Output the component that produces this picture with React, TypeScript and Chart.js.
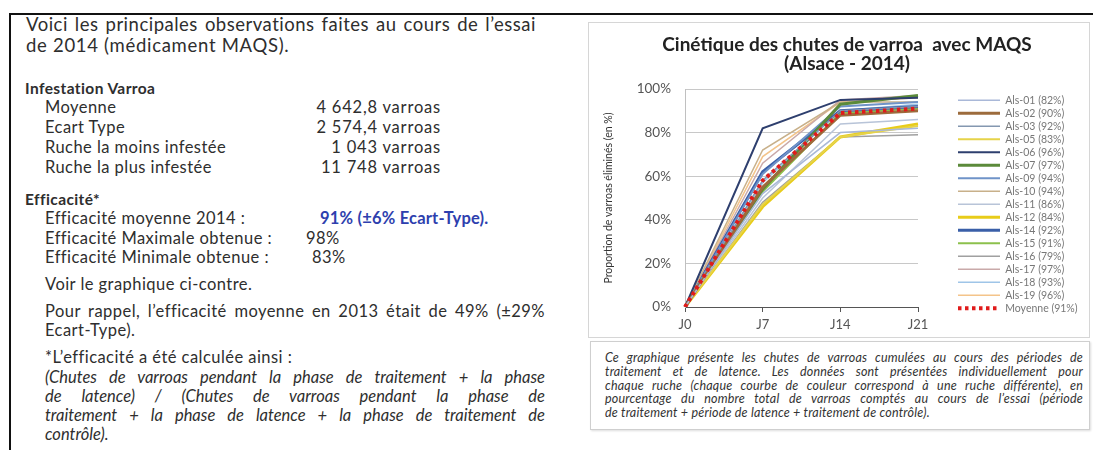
import React, { useEffect, useRef } from 'react';
import { Chart, registerables } from 'chart.js';

Chart.register(...registerables);

// ---------- data ----------
const days = ['J0', 'J7', 'J14', 'J21'];
const hiveLabels = [
  'Als-01 (82%)', 'Als-02 (90%)', 'Als-03 (92%)', 'Als-05 (83%)', 'Als-06 (96%)',
  'Als-07 (97%)', 'Als-09 (94%)', 'Als-10 (94%)', 'Als-11 (86%)', 'Als-12 (84%)',
  'Als-14 (92%)', 'Als-15 (91%)', 'Als-16 (79%)', 'Als-17 (97%)', 'Als-18 (93%)',
  'Als-19 (96%)',
];
const als01 = [0, 52, 80, 82];
const als02 = [0, 55, 88, 90];
const als03 = [0, 58, 90, 92];
const als05 = [0, 47, 78, 83];
const als06 = [0, 82, 95, 96];
const als07 = [0, 54, 93, 97];
const als09 = [0, 61, 92, 94];
const als10 = [0, 72, 94, 94];
const als11 = [0, 50, 84, 86];
const als12 = [0, 46, 78, 84];
const als14 = [0, 62, 90, 92];
const als15 = [0, 53, 89, 91];
const als16 = [0, 48, 78, 79];
const als17 = [0, 66, 95, 97];
const als18 = [0, 57, 90, 93];
const als19 = [0, 69, 94, 96];
const meanLabel = 'Moyenne (91%)';
const meanValues = [0, 58, 89, 91];
const yTickValues = [0, 20, 40, 60, 80, 100];

const hiveSeries = [als01, als02, als03, als05, als06, als07, als09, als10, als11, als12, als14, als15, als16, als17, als18, als19];

// ---------- styles ----------
const hiveColors = [
  '#a9b8d8', '#9c6b3c', '#8497b0', '#e6d34a', '#2e3f6e', '#5b8a3a', '#6f93c8', '#c8b08a',
  '#b8c4d8', '#e8cc1a', '#3a5fa8', '#8cc04c', '#a0a0a0', '#c9a9a9', '#9fc5e8', '#f4c48a',
];
const hiveWidths = [1.5, 3, 1.5, 2, 2, 3, 2, 1.5, 1.5, 3, 3, 2, 1.5, 1.5, 1.5, 1.5];

const FONT = 'Lato, "Noto Sans", sans-serif';

// layout constants (canvas-relative)
const CANVAS_W = 498;
const CANVAS_H = 312;
const LEGEND_LEFT = 365.5;
const LEGEND_TOP = 68.5;
const TITLE_CENTER = 257;
const TITLE_HALF = 240;

const placePlugin = {
  id: 'placeBoxes',
  afterLayout(chart: any) {
    const lg = chart.legend;
    if (lg) {
      const w = lg.width;
      lg.left = LEGEND_LEFT;
      lg.right = LEGEND_LEFT + w;
      lg.top = LEGEND_TOP;
      lg.bottom = LEGEND_TOP + 400;
    }
    const tb = chart.titleBlock;
    if (tb) {
      tb.left = TITLE_CENTER - TITLE_HALF;
      tb.right = TITLE_CENTER + TITLE_HALF;
      tb.width = TITLE_HALF * 2;
    }
  },
};

function VarroaChart() {
  const ref = useRef<HTMLCanvasElement | null>(null);
  useEffect(() => {
    if (!ref.current) return;
    const datasets: any[] = hiveSeries.map((vals, i) => ({
      label: hiveLabels[i],
      data: vals,
      borderColor: hiveColors[i],
      backgroundColor: hiveColors[i],
      borderWidth: hiveWidths[i],
      pointRadius: 0,
      tension: 0,
      fill: false,
      order: 0,
    }));
    datasets.push({
      label: meanLabel,
      data: meanValues,
      borderColor: '#e01b1b',
      backgroundColor: '#e01b1b',
      borderWidth: 4,
      borderDash: [3.5, 3.5],
      pointRadius: 0,
      tension: 0,
      fill: false,
      order: -1,
    });
    const baseLabels = Chart.defaults.plugins.legend.labels.generateLabels;
    const chart = new Chart(ref.current, {
      type: 'line',
      data: { labels: days, datasets },
      plugins: [placePlugin],
      options: {
        responsive: false,
        animation: false,
        devicePixelRatio: 1,
        layout: { padding: { left: 0, top: 0, right: CANVAS_W - 328, bottom: 0 } },
        plugins: {
          tooltip: { enabled: false },
          title: {
            display: true,
            text: ['Cinétique des chutes de varroa  avec MAQS', '(Alsace - 2014)'],
            color: '#222',
            font: { family: FONT, size: 19, weight: 'bold', lineHeight: '19.5px' },
            padding: { top: 11, bottom: 15 },
          },
          legend: {
            display: true,
            position: 'chartArea',
            align: 'start',
            labels: {
              usePointStyle: true,
              pointStyle: 'line',
              pointStyleWidth: 42,
              padding: 2.5,
              color: '#777',
              font: { family: FONT, size: 10.5 },
              sort: (a: any, b: any) => a.datasetIndex - b.datasetIndex,
              generateLabels: (c: any) => baseLabels(c).map((it: any) => {
                const ds = c.data.datasets[it.datasetIndex];
                return { ...it, lineDash: ds.borderDash || [], lineWidth: ds.borderWidth, strokeStyle: ds.borderColor };
              }),
            },
          },
        },
        scales: {
          x: {
            type: 'category',
            offset: false,
            grid: { display: true, drawOnChartArea: false, drawTicks: true, tickLength: 5, color: '#555' },
            border: { display: true, color: '#555', width: 1 },
            ticks: { color: '#555', font: { family: FONT, size: 13 }, padding: 5, maxRotation: 0 },
            afterFit: (s: any) => { s.height = 29; },
          },
          y: {
            min: 0,
            max: 100,
            afterBuildTicks: (s: any) => { s.ticks = yTickValues.map((v) => ({ value: v })); },
            grid: { color: '#c8c8c8', drawTicks: false, lineWidth: 1 },
            border: { display: true, color: '#c0c0c0' },
            ticks: {
              color: '#555',
              font: { family: FONT, size: 13.5 },
              padding: 14,
              callback: (v: any) => `${v}%`,
            },
            title: {
              display: true,
              text: 'Proportion de varroas éliminés (en %)',
              color: '#333',
              font: { family: FONT, size: 10.5 },
              padding: { top: 12.5, bottom: 0 },
            },
            afterFit: (s: any) => { s.width = 95; },
          },
        },
      },
    } as any);
    return () => chart.destroy();
  }, []);
  return <canvas ref={ref} width={CANVAS_W} height={CANVAS_H} style={{ width: CANVAS_W, height: CANVAS_H, display: 'block' }} />;
}

const BODY = 16.5;
const BODY_LS = 0.45;
const txt: React.CSSProperties = { position: 'absolute', whiteSpace: 'nowrap', fontFamily: FONT, color: '#2e2e2e', lineHeight: '20px' };

function T({ x, cy, size = BODY, ls = BODY_LS, bold = false, italic = false, color, children, right }: any) {
  const style: React.CSSProperties = { ...txt, top: cy - 10, fontSize: size, letterSpacing: ls, fontWeight: bold ? 700 : 400, fontStyle: italic ? 'italic' : 'normal' };
  if (color) style.color = color;
  if (right !== undefined) { style.right = 1093 - right; style.textAlign = 'right'; } else style.left = x;
  return <div style={style}>{children}</div>;
}

function J({ x, w, cy, size, ls = 0, italic = true, last = false, children, color = '#2e2e2e' }: any) {
  return (
    <div style={{ ...txt, whiteSpace: 'normal', left: x, width: w, top: cy - 10, fontSize: size, letterSpacing: ls, fontStyle: italic ? 'italic' : 'normal', color, textAlign: 'justify', textAlignLast: last ? 'left' : 'justify' } as React.CSSProperties}>
      {children}
    </div>
  );
}

export default function App() {
  return (
    <div style={{ position: 'absolute', left: 0, top: 0, width: 1093, height: 450, overflow: 'hidden', background: '#fff' }}>
      <div style={{ position: 'absolute', left: 9, top: 13, width: 1200, height: 600, borderLeft: '2px solid #111', borderTop: '2px solid #111' }} />

      <J x={26} w={510} cy={24} size={18.5} ls={0.5} italic={false}>Voici les principales observations faites au cours de l’essai</J>
      <T x={26} cy={45} size={18.5} ls={0.7}>de 2014 (médicament MAQS).</T>

      <T x={25} cy={88} size={15.5} ls={0.4} bold>Infestation Varroa</T>
      <T x={45} cy={107}>Moyenne</T>
      <T x={45} cy={127}>Ecart Type</T>
      <T x={45} cy={147}>Ruche la moins infestée</T>
      <T x={45} cy={167}>Ruche la plus infestée</T>
      <T right={441} cy={107} ls={0.8}>4 642,8 varroas</T>
      <T right={441} cy={127} ls={0.8}>2 574,4 varroas</T>
      <T right={441} cy={147} ls={0.8}>1 043 varroas</T>
      <T right={441} cy={167} ls={0.8}>11 748 varroas</T>

      <T x={25} cy={199} size={15.5} ls={0.4} bold>Efficacité*</T>
      <T x={45} cy={218}>Efficacité moyenne 2014 :</T>
      <T x={320} cy={218} bold ls={0.2} color="#2e3fae">91% (±6% Ecart-Type).</T>
      <T x={45} cy={238}>Efficacité Maximale obtenue :</T>
      <T x={306} cy={238}>98%</T>
      <T x={45} cy={257}>Efficacité Minimale obtenue :</T>
      <T x={312} cy={257}>83%</T>
      <T x={45} cy={284}>Voir le graphique ci-contre.</T>
      <J x={45} w={500} cy={311} size={BODY} ls={BODY_LS} italic={false}>Pour rappel, l’efficacité moyenne en 2013 était de 49% (±29%</J>
      <T x={45} cy={330}>Ecart-Type).</T>
      <T x={45} cy={357}>*L’efficacité a été calculée ainsi :</T>
      <J x={45} w={500} cy={377} size={BODY}>(Chutes de varroas pendant la phase de traitement + la phase</J>
      <J x={45} w={500} cy={396} size={BODY}>de latence) / (Chutes de varroas pendant la phase de</J>
      <J x={45} w={500} cy={415} size={BODY}>traitement + la phase de latence + la phase de traitement de</J>
      <J x={45} w={500} cy={434} size={BODY} last>contrôle).</J>

      <div style={{ position: 'absolute', left: 588, top: 22, width: 502, height: 316, border: '1px solid #d6d6d6', boxSizing: 'border-box' }} />
      <div style={{ position: 'absolute', left: 590, top: 24 }}>
        <VarroaChart />
      </div>
      <div style={{ position: 'absolute', left: 590, top: 341, width: 500, height: 89, border: '1px solid #cfcfcf', boxSizing: 'border-box', boxShadow: '1px 1px 2px #ddd' }} />
      <J x={605} w={478} cy={358} size={12.5} ls={0.2} color="#333">Ce graphique présente les chutes de varroas cumulées au cours des périodes de</J>
      <J x={605} w={478} cy={372} size={12.5} ls={0.2} color="#333">traitement et de latence. Les données sont présentées individuellement pour</J>
      <J x={605} w={478} cy={386} size={12.5} ls={0.2} color="#333">chaque ruche (chaque courbe de couleur correspond à une ruche différente), en</J>
      <J x={605} w={478} cy={399} size={12.5} ls={0.2} color="#333">pourcentage du nombre total de varroas comptés au cours de l’essai (période</J>
      <J x={605} w={478} cy={413} size={12.5} ls={0.2} color="#333" last>de traitement + période de latence + traitement de contrôle).</J>
    </div>
  );
}
